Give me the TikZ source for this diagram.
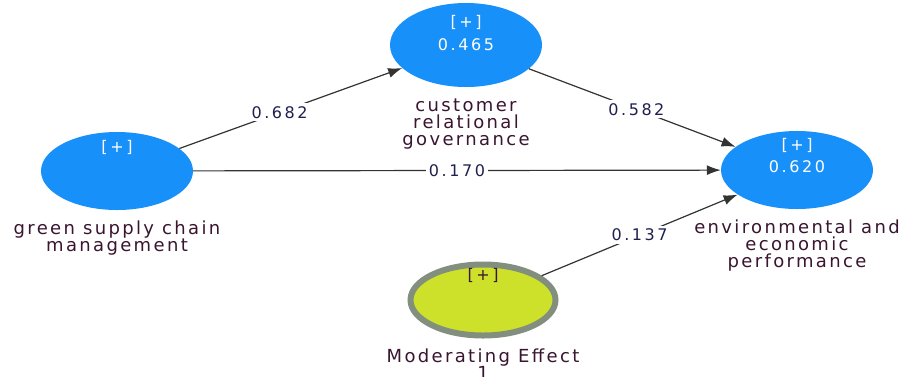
\documentclass[tikz,border=0pt]{standalone}
\usepackage{fontspec}
\setmainfont{DejaVu Sans}[LetterSpace=16]
\newfontfamily\lblfont{DejaVu Sans}[LetterSpace=13]
\usetikzlibrary{shapes.geometric,arrows.meta}
\definecolor{lvblue}{HTML}{1890FA}
\definecolor{modfill}{HTML}{CDE02A}
\definecolor{modring}{HTML}{838F7E}
\definecolor{lbltxt}{HTML}{3A1530}
\definecolor{coeftxt}{HTML}{1F2050}
\definecolor{edgecol}{HTML}{333333}
\begin{document}
\begin{tikzpicture}[x=1pt,y=-1pt,
  latent/.style={ellipse,fill=lvblue,draw=none,minimum width=152pt,minimum height=78pt,inner sep=0pt},
  modvar/.style={ellipse,fill=modfill,draw=modring,line width=6pt,minimum width=145pt,minimum height=71pt,inner sep=0pt},
  intxt/.style={text=white,font=\fontsize{16}{18}\selectfont,inner sep=0pt},
  lbl/.style={text=lbltxt,font=\lblfont\fontsize{18}{17}\selectfont,align=center,inner sep=0pt},
  coef/.style={fill=white,text=coeftxt,font=\fontsize{16}{18}\selectfont,inner sep=3pt},
  path/.style={draw=edgecol,line width=1.2pt,-{Latex[length=14pt,width=10pt]}}
]
\useasboundingbox[fill=white] (0,0) rectangle (907,376);
\node[latent] (gscm) at (117,171) {};
\node[latent,minimum height=84pt] (crg) at (466,45) {};
\node[latent] (eep) at (797,170) {};
\node[modvar] (mod) at (483,300) {};

\node[intxt] (gscmp) at (117,147) {[+]};
\node[intxt] (crgp) at (466,22) {[+]};
\node[intxt] (crgv) at (466,45) {0.465};
\node[intxt] (eepp) at (797,145) {[+]};
\node[intxt] (eepv) at (797,167) {0.620};
\node[intxt,text=lbltxt] (modp) at (483,275) {[+]};

\node[lbl] (gscml) at (117,238) {green supply chain\\management};
\node[lbl] (crgl) at (466,124) {customer\\relational\\governance};
\node[lbl] (eepl) at (797,246) {environmental and\\economic\\performance};
\node[lbl] (modl) at (483,364) {Moderating Effect\\1};

\draw[path] (gscm) -- node[coef,pos=0.45] (c1) {0.682} (crg);
\draw[path] (crg) -- node[coef,pos=0.52] (c2) {0.582} (eep);
\draw[path] (gscm) -- node[coef,pos=0.5] (c3) {0.170} (eep);
\draw[path] (mod) -- node[coef,pos=0.5] (c4) {0.137} (eep);
\end{tikzpicture}
\end{document}
